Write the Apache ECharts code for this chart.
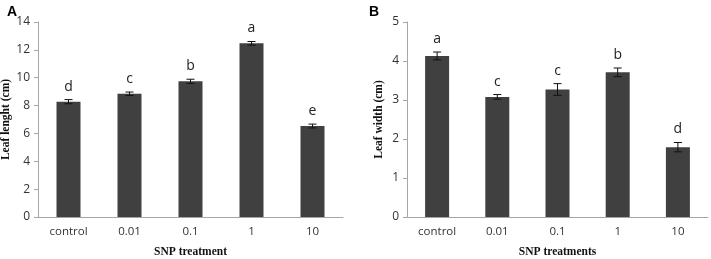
<!DOCTYPE html>
<html>
<head>
<meta charset="utf-8">
<script src="https://cdn.jsdelivr.net/npm/echarts@6/dist/echarts.min.js"></script>
<style>
  html, body { margin: 0; padding: 0; background: #fff; }
  #chart { width: 711px; height: 259px; }
</style>
</head>
<body>
<div id="chart"></div>
<script>
const categories = ["control", "0.01", "0.1", "1", "10"];

const lengthMean = [8.28, 8.85, 9.74, 12.47, 6.53];
const lengthErr = [0.15, 0.12, 0.15, 0.13, 0.14];
const lengthLetters = ["d", "c", "b", "a", "e"];

const widthMean = [4.13, 3.08, 3.27, 3.71, 1.79];
const widthErr = [0.10, 0.06, 0.15, 0.11, 0.12];
const widthLetters = ["a", "c", "c", "b", "d"];

const barColor = "#404040";
const axisLineColor = "#a6a6a6";
const tickFont = "'Open Sans', 'Noto Sans', sans-serif";
const titleFont = "'Liberation Serif', 'DejaVu Serif', serif";

function errorSeries(axisIdx, means, errs, letters) {
  return {
    type: "custom",
    xAxisIndex: axisIdx,
    yAxisIndex: axisIdx,
    silent: true,
    z: 5,
    data: means.map((m, i) => [i, m, errs[i]]),
    renderItem: function (params, api) {
      const i = api.value(0);
      const m = api.value(1);
      const e = api.value(2);
      const top = api.coord([i, m + e]);
      const bot = api.coord([i, m - e]);
      const w = 4;
      return {
        type: "group",
        children: [
          { type: "line", shape: { x1: top[0], y1: top[1], x2: bot[0], y2: bot[1] }, style: { stroke: "#111", lineWidth: 1 } },
          { type: "line", shape: { x1: top[0] - w, y1: top[1], x2: top[0] + w, y2: top[1] }, style: { stroke: "#111", lineWidth: 1 } },
          { type: "line", shape: { x1: bot[0] - w, y1: bot[1], x2: bot[0] + w, y2: bot[1] }, style: { stroke: "#111", lineWidth: 1 } },
          {
            type: "text",
            x: top[0],
            y: top[1] - 13,
            style: {
              text: letters[params.dataIndex],
              fill: "#222",
              font: "14px " + tickFont,
              align: "center",
              verticalAlign: "middle"
            }
          }
        ]
      };
    }
  };
}

function makeXAxis(idx, name) {
  return {
    type: "category",
    gridIndex: idx,
    data: categories,
    axisLine: { lineStyle: { color: axisLineColor } },
    axisTick: { show: false },
    axisLabel: { color: "#333", fontFamily: tickFont, fontSize: 11.5, margin: 9 },
    name: name,
    nameLocation: "middle",
    nameGap: 29,
    nameTextStyle: { fontFamily: titleFont, fontWeight: "bold", fontSize: 11.5, color: "#111" }
  };
}

function makeYAxis(idx, name, max, interval, gap) {
  return {
    type: "value",
    gridIndex: idx,
    min: 0,
    max: max,
    interval: interval,
    splitLine: { show: false },
    axisLine: { show: true, lineStyle: { color: axisLineColor } },
    axisTick: { show: true, length: 4, lineStyle: { color: axisLineColor } },
    axisLabel: { color: "#333", fontFamily: tickFont, fontSize: 12, margin: 8 },
    name: name,
    nameLocation: "middle",
    nameGap: gap,
    nameTextStyle: { fontFamily: titleFont, fontWeight: "bold", fontSize: 11.5, color: "#111" }
  };
}

const chart = echarts.init(document.getElementById("chart"));
chart.setOption({
  animation: false,
  title: [
    { text: "A", left: 2, top: 0, textStyle: { fontFamily: "'Liberation Sans', Arial, sans-serif", fontWeight: "bold", fontSize: 14, color: "#000" } },
    { text: "B", left: 364, top: 0, textStyle: { fontFamily: "'Liberation Sans', Arial, sans-serif", fontWeight: "bold", fontSize: 14, color: "#000" } }
  ],
  grid: [
    { left: 38, right: 368, top: 22, bottom: 42, outerBoundsMode: "none", containLabel: false },
    { left: 407, right: 3, top: 22, bottom: 42, outerBoundsMode: "none", containLabel: false }
  ],
  xAxis: [makeXAxis(0, "SNP treatment"), makeXAxis(1, "SNP treatments")],
  yAxis: [
    makeYAxis(0, "Leaf lenght (cm)", 14, 2, 25),
    makeYAxis(1, "Leaf width (cm)", 5, 1, 22)
  ],
  series: [
    { type: "bar", xAxisIndex: 0, yAxisIndex: 0, data: lengthMean, barWidth: 24, itemStyle: { color: barColor } },
    errorSeries(0, lengthMean, lengthErr, lengthLetters),
    { type: "bar", xAxisIndex: 1, yAxisIndex: 1, data: widthMean, barWidth: 24, itemStyle: { color: barColor } },
    errorSeries(1, widthMean, widthErr, widthLetters)
  ]
});
</script>
</body>
</html>
